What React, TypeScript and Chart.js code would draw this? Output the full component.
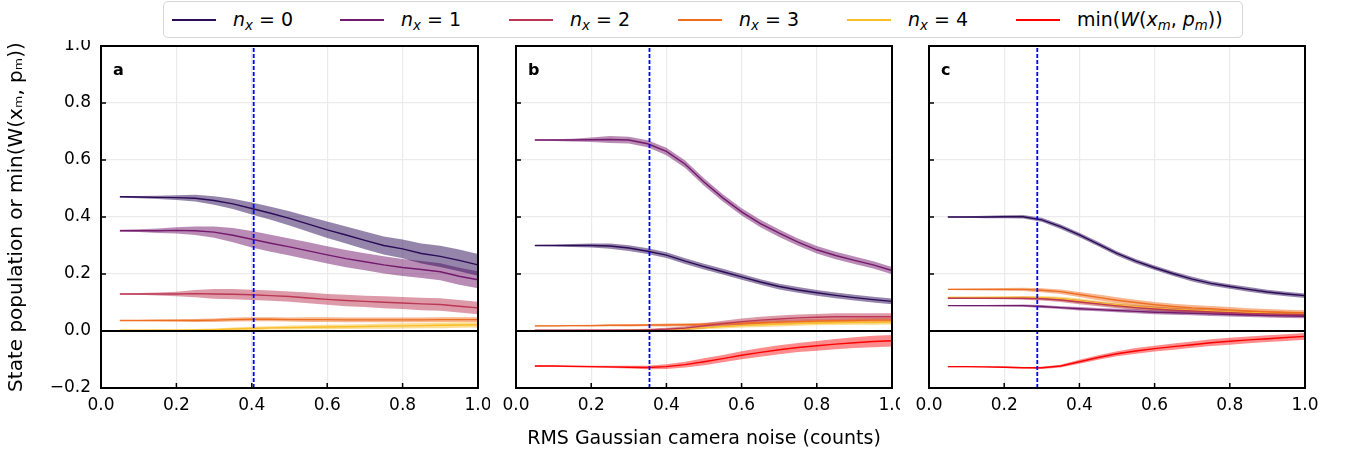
import React, { useEffect, useRef } from 'react';
import { Chart, registerables } from 'chart.js';
Chart.register(...registerables);

const FONT = '"DejaVu Sans", sans-serif';

// x values: RMS Gaussian camera noise (counts)
const noise = [0.05, 0.1, 0.15, 0.2, 0.25, 0.3, 0.35, 0.4, 0.45, 0.5, 0.55, 0.6, 0.65, 0.7, 0.75, 0.8, 0.85, 0.9, 0.95, 1.0];
const xTicks = [0, 0.2, 0.4, 0.6, 0.8, 1.0];
const yTicks = [-0.2, 0, 0.2, 0.4, 0.6, 0.8, 1.0];

const seriesLabels = ['n_x = 0', 'n_x = 1', 'n_x = 2', 'n_x = 3', 'n_x = 4', 'min(W(x_m, p_m))'];
const seriesColors = ['#2c0b57', '#741a6d', '#bc3754', '#ee6e21', '#f9be28', '#ff0000'];

// Panel a
const aN0 = [0.471, 0.470, 0.469, 0.468, 0.466, 0.458, 0.446, 0.430, 0.413, 0.395, 0.375, 0.355, 0.337, 0.318, 0.300, 0.288, 0.272, 0.262, 0.248, 0.232];
const aN0Err = [0.003, 0.004, 0.006, 0.008, 0.012, 0.015, 0.018, 0.021, 0.023, 0.025, 0.027, 0.029, 0.030, 0.031, 0.032, 0.033, 0.035, 0.037, 0.038, 0.038];
const aN1 = [0.352, 0.352, 0.352, 0.353, 0.352, 0.347, 0.336, 0.322, 0.308, 0.295, 0.281, 0.267, 0.254, 0.243, 0.232, 0.223, 0.216, 0.208, 0.192, 0.180];
const aN1Err = [0.003, 0.005, 0.008, 0.011, 0.015, 0.020, 0.025, 0.029, 0.030, 0.030, 0.030, 0.030, 0.030, 0.030, 0.030, 0.030, 0.030, 0.030, 0.030, 0.030];
const aN2 = [0.130, 0.130, 0.130, 0.130, 0.131, 0.130, 0.129, 0.127, 0.124, 0.121, 0.116, 0.111, 0.107, 0.104, 0.101, 0.098, 0.095, 0.093, 0.087, 0.081];
const aN2Err = [0.002, 0.003, 0.005, 0.008, 0.013, 0.017, 0.018, 0.018, 0.018, 0.018, 0.019, 0.019, 0.020, 0.020, 0.021, 0.021, 0.022, 0.022, 0.022, 0.022];
const aN3 = [0.037, 0.037, 0.037, 0.037, 0.037, 0.038, 0.040, 0.041, 0.041, 0.040, 0.040, 0.040, 0.039, 0.039, 0.039, 0.039, 0.039, 0.040, 0.040, 0.040];
const aN3Err = [0.002, 0.002, 0.003, 0.004, 0.005, 0.006, 0.007, 0.007, 0.007, 0.007, 0.008, 0.008, 0.008, 0.008, 0.008, 0.008, 0.008, 0.008, 0.008, 0.008];
const aN4 = [0.003, 0.003, 0.003, 0.003, 0.004, 0.005, 0.007, 0.009, 0.011, 0.012, 0.013, 0.014, 0.015, 0.016, 0.017, 0.018, 0.019, 0.020, 0.021, 0.022];
const aN4Err = [0.001, 0.001, 0.002, 0.002, 0.003, 0.004, 0.005, 0.006, 0.006, 0.007, 0.007, 0.008, 0.008, 0.008, 0.009, 0.009, 0.009, 0.010, 0.010, 0.010];

// Panel b
const bN0 = [0.300, 0.300, 0.300, 0.300, 0.298, 0.291, 0.280, 0.266, 0.245, 0.226, 0.208, 0.190, 0.172, 0.156, 0.144, 0.134, 0.125, 0.117, 0.110, 0.104];
const bN0Err = [0.002, 0.003, 0.005, 0.007, 0.009, 0.010, 0.010, 0.010, 0.010, 0.010, 0.010, 0.010, 0.010, 0.010, 0.010, 0.010, 0.010, 0.010, 0.010, 0.010];
const bN1 = [0.670, 0.670, 0.670, 0.671, 0.672, 0.670, 0.657, 0.630, 0.585, 0.523, 0.467, 0.418, 0.377, 0.343, 0.312, 0.285, 0.265, 0.248, 0.232, 0.212];
const bN1Err = [0.002, 0.003, 0.005, 0.008, 0.012, 0.012, 0.012, 0.013, 0.013, 0.013, 0.013, 0.013, 0.013, 0.013, 0.013, 0.013, 0.013, 0.013, 0.013, 0.013];
const bN2 = [0.003, 0.003, 0.003, 0.003, 0.003, 0.003, 0.004, 0.006, 0.010, 0.018, 0.026, 0.033, 0.038, 0.042, 0.046, 0.048, 0.050, 0.050, 0.050, 0.050];
const bN2Err = [0.001, 0.001, 0.001, 0.002, 0.002, 0.003, 0.004, 0.005, 0.007, 0.009, 0.010, 0.011, 0.012, 0.012, 0.012, 0.012, 0.012, 0.012, 0.012, 0.012];
const bN3 = [0.018, 0.018, 0.019, 0.019, 0.020, 0.020, 0.021, 0.021, 0.022, 0.023, 0.025, 0.027, 0.029, 0.031, 0.033, 0.035, 0.036, 0.037, 0.038, 0.038];
const bN3Err = [0.002, 0.002, 0.002, 0.003, 0.003, 0.004, 0.004, 0.005, 0.005, 0.006, 0.006, 0.007, 0.007, 0.008, 0.008, 0.008, 0.008, 0.008, 0.008, 0.008];
const bN4 = [0.000, 0.000, 0.000, 0.001, 0.001, 0.002, 0.003, 0.005, 0.008, 0.012, 0.016, 0.019, 0.022, 0.024, 0.026, 0.028, 0.029, 0.030, 0.030, 0.031];
const bN4Err = [0.001, 0.001, 0.001, 0.001, 0.002, 0.002, 0.003, 0.004, 0.005, 0.006, 0.007, 0.007, 0.008, 0.008, 0.008, 0.008, 0.008, 0.008, 0.008, 0.008];
const bMinW = [-0.123, -0.123, -0.124, -0.125, -0.126, -0.127, -0.128, -0.125, -0.118, -0.108, -0.097, -0.085, -0.075, -0.066, -0.058, -0.052, -0.046, -0.041, -0.037, -0.034];
const bMinWErr = [0.002, 0.002, 0.003, 0.003, 0.004, 0.005, 0.006, 0.008, 0.010, 0.012, 0.013, 0.014, 0.015, 0.016, 0.016, 0.017, 0.018, 0.019, 0.020, 0.020];

// Panel c
const cN0 = [0.400, 0.400, 0.400, 0.401, 0.401, 0.390, 0.366, 0.337, 0.305, 0.272, 0.245, 0.222, 0.201, 0.182, 0.167, 0.156, 0.146, 0.137, 0.130, 0.124];
const cN0Err = [0.002, 0.003, 0.004, 0.005, 0.006, 0.007, 0.008, 0.008, 0.008, 0.008, 0.008, 0.008, 0.008, 0.008, 0.008, 0.008, 0.008, 0.008, 0.008, 0.008];
const cN1 = [0.089, 0.089, 0.089, 0.089, 0.089, 0.086, 0.082, 0.078, 0.075, 0.072, 0.069, 0.066, 0.064, 0.062, 0.060, 0.058, 0.056, 0.054, 0.053, 0.052];
const cN1Err = [0.001, 0.002, 0.002, 0.003, 0.004, 0.005, 0.005, 0.006, 0.006, 0.006, 0.007, 0.007, 0.007, 0.007, 0.007, 0.007, 0.007, 0.007, 0.007, 0.007];
const cN2 = [0.115, 0.115, 0.115, 0.115, 0.115, 0.113, 0.109, 0.102, 0.095, 0.088, 0.082, 0.077, 0.073, 0.070, 0.067, 0.064, 0.062, 0.060, 0.059, 0.057];
const cN2Err = [0.002, 0.002, 0.003, 0.004, 0.005, 0.006, 0.007, 0.008, 0.008, 0.008, 0.008, 0.008, 0.008, 0.008, 0.008, 0.008, 0.008, 0.008, 0.008, 0.008];
const cN3 = [0.146, 0.146, 0.146, 0.146, 0.146, 0.143, 0.138, 0.128, 0.118, 0.108, 0.100, 0.092, 0.086, 0.081, 0.078, 0.074, 0.070, 0.067, 0.065, 0.063];
const cN3Err = [0.002, 0.003, 0.004, 0.005, 0.006, 0.007, 0.008, 0.009, 0.010, 0.010, 0.010, 0.010, 0.010, 0.010, 0.010, 0.010, 0.010, 0.010, 0.010, 0.010];
const cN4 = [0.118, 0.118, 0.118, 0.118, 0.118, 0.117, 0.113, 0.106, 0.098, 0.091, 0.085, 0.080, 0.076, 0.073, 0.070, 0.067, 0.065, 0.063, 0.061, 0.059];
const cN4Err = [0.002, 0.002, 0.003, 0.004, 0.005, 0.006, 0.007, 0.008, 0.008, 0.008, 0.008, 0.008, 0.008, 0.008, 0.008, 0.008, 0.008, 0.008, 0.008, 0.008];
const cMinW = [-0.125, -0.125, -0.126, -0.127, -0.129, -0.129, -0.123, -0.108, -0.093, -0.080, -0.070, -0.062, -0.055, -0.048, -0.041, -0.036, -0.031, -0.027, -0.023, -0.019];
const cMinWErr = [0.002, 0.002, 0.002, 0.003, 0.003, 0.004, 0.005, 0.007, 0.008, 0.009, 0.010, 0.010, 0.011, 0.011, 0.012, 0.012, 0.012, 0.012, 0.012, 0.012];

// vertical dashed thresholds
const thresholds = [0.405, 0.355, 0.288];

type Series = { idx: number; mean: number[]; err: number[] };

const panelASeries: Series[] = [
  { idx: 0, mean: aN0, err: aN0Err },
  { idx: 1, mean: aN1, err: aN1Err },
  { idx: 2, mean: aN2, err: aN2Err },
  { idx: 3, mean: aN3, err: aN3Err },
  { idx: 4, mean: aN4, err: aN4Err },
];
const panelBSeries: Series[] = [
  { idx: 0, mean: bN0, err: bN0Err },
  { idx: 1, mean: bN1, err: bN1Err },
  { idx: 2, mean: bN2, err: bN2Err },
  { idx: 3, mean: bN3, err: bN3Err },
  { idx: 4, mean: bN4, err: bN4Err },
  { idx: 5, mean: bMinW, err: bMinWErr },
];
const panelCSeries: Series[] = [
  { idx: 0, mean: cN0, err: cN0Err },
  { idx: 1, mean: cN1, err: cN1Err },
  { idx: 2, mean: cN2, err: cN2Err },
  { idx: 3, mean: cN3, err: cN3Err },
  { idx: 4, mean: cN4, err: cN4Err },
  { idx: 5, mean: cMinW, err: cMinWErr },
];

function rgba(hex: string, a: number) {
  const n = parseInt(hex.slice(1), 16);
  return `rgba(${(n >> 16) & 255},${(n >> 8) & 255},${n & 255},${a})`;
}

const fmt = (v: any) => {
  const s = Number(v).toFixed(1);
  return s === '-0.0' ? '0.0' : s.replace('-', '\u2212');
};

const framePlugin = {
  id: 'frame',
  afterDatasetsDraw(chart: any, _args: any, opts: any) {
    const { ctx, chartArea, scales } = chart;
    const { left, right, top, bottom } = chartArea;
    ctx.save();
    ctx.strokeStyle = '#000';
    const y0 = scales.y.getPixelForValue(0);
    ctx.lineWidth = 2;
    ctx.beginPath();
    ctx.moveTo(left, y0);
    ctx.lineTo(right, y0);
    ctx.stroke();
    ctx.lineWidth = 1.5;
    ctx.beginPath();
    xTicks.forEach((t) => {
      const px = scales.x.getPixelForValue(t);
      ctx.moveTo(px, bottom);
      ctx.lineTo(px, bottom - 5);
    });
    yTicks.forEach((t) => {
      const py = scales.y.getPixelForValue(t);
      ctx.moveTo(left, py);
      ctx.lineTo(left + 5, py);
    });
    ctx.stroke();
    ctx.lineWidth = 2;
    ctx.strokeRect(left, top, right - left, bottom - top);
    ctx.fillStyle = '#000';
    ctx.font = `bold 16px ${FONT}`;
    ctx.textBaseline = 'alphabetic';
    ctx.fillText(opts.letter, left + 12, top + 29);
    ctx.restore();
  },
};

type PanelProps = {
  letter: string;
  series: Series[];
  threshold: number;
  showY: boolean;
  showXTitle: boolean;
  left: number;
  width: number;
  yWidth: number;
  rightPad: number;
};

function Panel(p: PanelProps) {
  const ref = useRef<HTMLCanvasElement>(null);
  useEffect(() => {
    if (!ref.current) return;
    const datasets: any[] = [];
    datasets.push({
      data: [{ x: p.threshold, y: -0.2 }, { x: p.threshold, y: 1.0 }],
      borderColor: '#0000ff',
      borderWidth: 1.8,
      borderDash: [4, 2],
      fill: false,
      pointRadius: 0,
    });
    p.series.forEach((s) => {
      datasets.push({
        label: seriesLabels[s.idx],
        data: noise.map((x, i) => ({ x, y: s.mean[i] })),
        borderColor: seriesColors[s.idx],
        borderWidth: 1.4,
        fill: false,
        pointRadius: 0,
      });
    });
    p.series.forEach((s) => {
      datasets.push({
        data: noise.map((x, i) => ({ x, y: s.mean[i] + s.err[i] })),
        borderWidth: 0,
        borderColor: 'rgba(0,0,0,0)',
        fill: false,
        pointRadius: 0,
      });
      datasets.push({
        data: noise.map((x, i) => ({ x, y: s.mean[i] - s.err[i] })),
        borderWidth: 0,
        borderColor: 'rgba(0,0,0,0)',
        backgroundColor: rgba(seriesColors[s.idx], s.idx === 5 ? 0.45 : 0.5),
        fill: '-1',
        pointRadius: 0,
      });
    });

    const chart = new Chart(ref.current, {
      type: 'line',
      data: { datasets },
      plugins: [framePlugin as any],
      options: {
        responsive: false,
        maintainAspectRatio: false,
        animation: false,
        layout: { padding: { top: 6, right: p.rightPad, left: 0, bottom: 0 } },
        elements: { point: { radius: 0 }, line: { tension: 0 } },
        plugins: {
          legend: { display: false },
          tooltip: { enabled: false },
          filler: { drawTime: 'beforeDatasetsDraw', propagate: false },
          frame: { letter: p.letter },
        } as any,
        scales: {
          x: {
            type: 'linear',
            min: 0,
            max: 1,
            ticks: {
              stepSize: 0.2,
              padding: 7,
              color: '#000',
              font: { family: FONT, size: 17 },
              callback: fmt,
              maxRotation: 0,
              autoSkip: false,
            },
            grid: { color: '#ebebeb', lineWidth: 1.2, drawTicks: false },
            border: { display: false },
            title: {
              display: p.showXTitle,
              text: 'RMS Gaussian camera noise (counts)',
              color: '#000',
              font: { family: FONT, size: 19 },
              padding: { top: 0, bottom: 6 },
            },
            afterFit: (s: any) => {
              s.height = 68;
              s.paddingLeft = 0;
              s.paddingRight = 0;
            },
          },
          y: {
            type: 'linear',
            min: -0.2,
            max: 1.0,
            ticks: {
              stepSize: 0.2,
              display: p.showY,
              padding: 10,
              color: '#000',
              font: { family: FONT, size: 17 },
              callback: fmt,
            },
            grid: { color: '#ebebeb', lineWidth: 1.2, drawTicks: false },
            border: { display: false },
            title: {
              display: p.showY,
              text: 'State population or min(W(x\u2098, p\u2098))',
              color: '#000',
              font: { family: FONT, size: 20 },
              padding: { top: 5, bottom: 0 },
            },
            afterFit: (s: any) => {
              s.width = p.yWidth;
              s.paddingTop = 0;
              s.paddingBottom = 0;
            },
          },
        },
      } as any,
    });
    return () => chart.destroy();
  }, []);
  return (
    <canvas
      ref={ref}
      width={p.width}
      height={416}
      style={{ position: 'absolute', left: p.left, top: 40, width: p.width, height: 416 }}
    />
  );
}

const legendX = [172, 340, 509, 678, 847, 1016];

function LegendLabel({ idx }: { idx: number }) {
  const sub = (t: string) => (
    <span style={{ fontSize: '0.7em', fontStyle: 'italic', position: 'relative', top: '0.3em' }}>{t}</span>
  );
  if (idx < 5) {
    return (
      <span>
        <i>n</i>
        {sub('x')}
        {' = '}
        {idx}
      </span>
    );
  }
  return (
    <span>
      min(<i>W</i>(<i>x</i>
      {sub('m')}, <i>p</i>
      {sub('m')}))
    </span>
  );
}

export default function App() {
  return (
    <div style={{ position: 'absolute', left: 0, top: 0, width: 1345, height: 456, background: '#fff', overflow: 'hidden' }}>
      <Panel letter="a" series={panelASeries} threshold={thresholds[0]} showY={true} showXTitle={false} left={0} width={490} yWidth={101} rightPad={12} />
      <Panel letter="b" series={panelBSeries} threshold={thresholds[1]} showY={false} showXTitle={true} left={490} width={410} yWidth={26} rightPad={8} />
      <Panel letter="c" series={panelCSeries} threshold={thresholds[2]} showY={false} showXTitle={false} left={900} width={445} yWidth={29} rightPad={40} />
      <div
        style={{
          position: 'absolute',
          left: 163,
          top: 1,
          width: 1080,
          height: 37,
          boxSizing: 'border-box',
          border: '1.5px solid #d6d6d6',
          borderRadius: 5,
          background: 'rgba(255,255,255,0.85)',
        }}
      />
      {seriesLabels.map((_, i) => (
        <React.Fragment key={i}>
          <div
            style={{
              position: 'absolute',
              left: legendX[i],
              top: 19,
              width: 44,
              height: 1.5,
              background: seriesColors[i],
            }}
          />
          <div
            style={{
              position: 'absolute',
              left: legendX[i] + 61,
              top: 6,
              height: 26,
              lineHeight: '26px',
              fontFamily: FONT,
              fontSize: 19,
              color: '#000',
              whiteSpace: 'pre',
            }}
          >
            <LegendLabel idx={i} />
          </div>
        </React.Fragment>
      ))}
    </div>
  );
}
